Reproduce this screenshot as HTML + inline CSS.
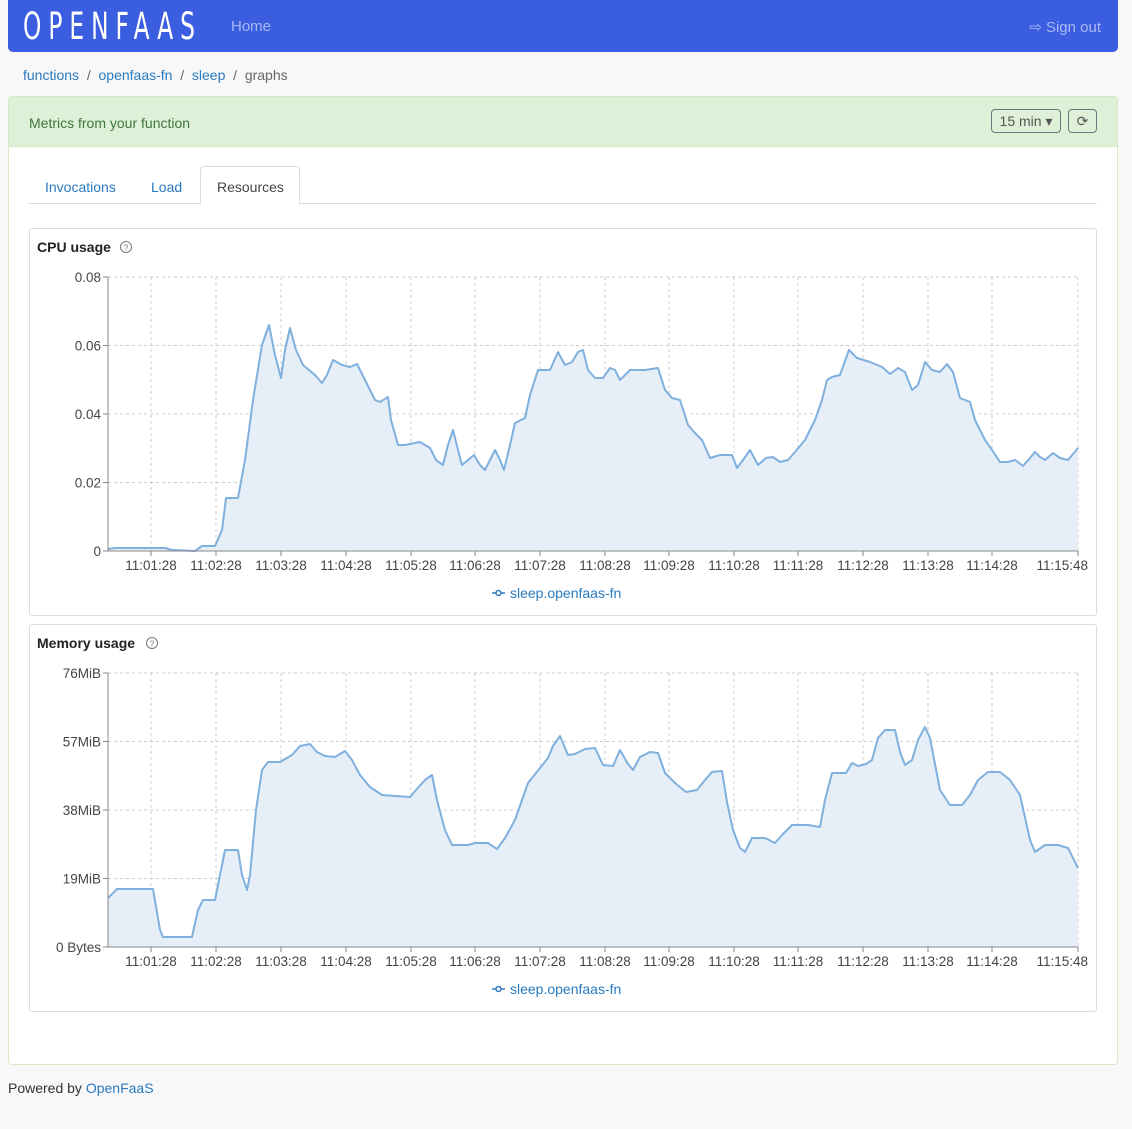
<!DOCTYPE html>
<html><head><meta charset="utf-8"><style>
body{margin:0;background:#f8f8f8;font-family:"Liberation Sans",sans-serif;width:1132px;height:1129px;position:relative;overflow:hidden;color:#333}
.nav{position:absolute;left:8px;top:0;width:1110px;height:52px;background:#3b5ee0;border-radius:0 0 5px 5px}
.logo{position:absolute;left:15px;top:5px;color:#fff;font-size:37px;letter-spacing:10px;font-family:"DejaVu Sans Condensed","Liberation Sans Narrow",sans-serif;font-weight:300;transform:scaleX(.7);transform-origin:left}
.home{position:absolute;left:223px;top:18px;color:#aab8f2;font-size:15px}
.so{position:absolute;right:17px;top:18px;color:#aab8f2;font-size:15px}
.bc{position:absolute;left:23px;top:67px;font-size:14px;color:#666}
.bc a{color:#2a7ac0}
.card{position:absolute;left:8px;top:96px;width:1108px;height:967px;border:1px solid #d6e9c6;border-radius:4px;background:#fff}
.ch{height:49px;background:#dff0d8;border-bottom:1px solid #d6e9c6;position:relative}
.ch span{position:absolute;left:20px;top:18px;color:#3c763d;font-size:14px}
.btn{position:absolute;border:1px solid #6c757d;border-radius:4px;color:#555;font-size:14px;height:22px;line-height:22px;top:12px}
.tab{position:absolute;top:80px;font-size:14px;color:#2a7ac0}
.pan{position:absolute;left:20px;width:1066px;height:386px;border:1px solid #ddd;border-radius:3px}
.ft{position:absolute;left:8px;top:1080px;font-size:14px}
svg text{font-family:"Liberation Sans",sans-serif}
</style></head><body>
<div class="nav"><div class="logo">OPENFAAS</div><div class="home">Home</div><div class="so">⇨ Sign out</div></div>
<div class="bc"><a>functions</a> &nbsp;/&nbsp; <a>openfaas-fn</a> &nbsp;/&nbsp; <a>sleep</a> &nbsp;/&nbsp; graphs</div>
<div class="card">
<div class="ch"><span>Metrics from your function</span>
<div class="btn" style="left:982px;width:68px;text-align:center">15 min ▾</div>
<div class="btn" style="left:1059px;width:27px;text-align:center">⟳</div></div>
<div style="position:absolute;left:20px;top:106px;width:1068px;border-bottom:1px solid #ddd"></div>
<div style="position:absolute;left:191px;top:69px;width:98px;height:37px;border:1px solid #ddd;border-bottom:1px solid #fff;border-radius:4px 4px 0 0;background:#fff"></div>
<div class="tab" style="left:36px;top:82px">Invocations</div>
<div class="tab" style="left:142px;top:82px">Load</div>
<div class="tab" style="left:208px;top:82px;color:#444">Resources</div>
<div class="pan" style="top:131px"></div>
<div class="pan" style="top:527px"></div>
</div>
<svg id="s" width="1132" height="1129" style="position:absolute;left:0;top:0"></svg>
<div class="ft">Powered by <span style="color:#2a7ac0">OpenFaaS</span></div>
<script>
var cpu=[108,549,115,548,130,548,165,548,172,550,195,551,202,546,215,546,222,530,226,498,238,498,245,460,253,400,262,345,269,325,275,355,281,378,285,350,290,328,296,350,303,365,315,375,322,383,327,375,333,360,342,365,350,367,357,364,365,380,375,400,380,402,388,397,391,420,398,445,405,445,420,442,430,448,436,460,443,465,448,445,453,430,458,450,462,465,468,460,474,455,480,465,485,470,490,460,495,450,500,460,504,470,510,445,515,423,525,418,530,395,538,370,550,370,558,352,565,365,572,362,578,352,583,350,588,370,595,378,603,378,610,368,615,370,620,380,630,370,645,370,658,368,665,390,672,398,680,400,688,425,695,433,702,440,710,458,720,455,732,455,737,468,743,460,750,450,758,465,766,458,773,457,780,462,788,460,795,452,805,440,815,420,822,400,827,380,832,377,840,375,849,350,857,358,870,362,882,367,890,374,898,368,905,372,912,390,918,385,925,362,932,370,940,372,947,364,953,372,960,398,970,402,975,420,985,440,992,450,1000,462,1008,462,1015,460,1023,466,1030,458,1035,452,1040,457,1045,460,1053,453,1060,458,1068,460,1078,448];
var mem=[108,898,117,889,153,889,160,930,163,937,192,937,198,910,203,900,215,900,220,875,225,850,238,850,242,875,247,890,250,875,256,810,262,770,268,762,280,762,292,755,300,746,310,744,317,752,325,756,335,757,345,751,352,760,360,775,370,787,382,795,395,796,410,797,416,790,425,780,432,775,437,800,445,830,452,845,468,845,475,843,488,843,497,849,505,838,515,820,522,800,528,783,540,768,548,758,553,746,560,736,568,755,575,754,585,749,595,748,603,765,613,766,620,750,628,764,633,770,640,757,650,752,658,753,665,773,675,783,686,792,697,790,705,780,712,772,722,771,727,802,733,830,740,848,745,852,752,838,765,838,775,843,782,835,792,825,808,825,820,827,825,800,832,773,840,773,846,773,852,763,858,766,866,764,872,760,878,738,885,730,895,730,900,752,905,765,912,760,918,740,925,727,930,738,940,790,950,805,962,805,970,795,978,780,988,772,1000,772,1010,780,1020,795,1030,840,1035,852,1045,845,1058,845,1068,848,1078,868];
var xt=[151,216,281,346,411,475,540,605,669,734,798,863,928,992,1078];
var xl=["11:01:28","11:02:28","11:03:28","11:04:28","11:05:28","11:06:28","11:07:28","11:08:28","11:09:28","11:10:28","11:11:28","11:12:28","11:13:28","11:14:28","11:15:48"];
var h='';
function chart(top,base,title,tx,yl,d){
 h+='<text x="37" y="'+(top+29)+'" font-size="14" font-weight="bold" fill="#222">'+title+'</text>';
 h+='<circle cx="'+tx+'" cy="'+(top+24)+'" r="5.5" fill="none" stroke="#777"/><text x="'+tx+'" y="'+(top+27.5)+'" font-size="8" text-anchor="middle" fill="#777">?</text>';
 for(var i=0;i<5;i++){var y=base-i*68.5;
  h+='<line x1="108" x2="1078" y1="'+y+'" y2="'+y+'" stroke="#ccc" stroke-dasharray="3,3"/>';
  h+='<line x1="103" x2="108" y1="'+y+'" y2="'+y+'" stroke="#888"/>';
  h+='<text x="101" y="'+(y+5)+'" font-size="13.5" text-anchor="end" fill="#444">'+yl[i]+'</text>';}
 xt.forEach(function(x,i){var last=i==14;h+='<line x1="'+x+'" x2="'+x+'" y1="'+(base-274)+'" y2="'+base+'" stroke="#ccc" stroke-dasharray="3,3"/><line x1="'+x+'" x2="'+x+'" y1="'+base+'" y2="'+(base+5)+'" stroke="#888"/><text x="'+(last?1088:x)+'" y="'+(base+19)+'" font-size="13.5" text-anchor="'+(last?'end':'middle')+'" fill="#444">'+xl[i]+'</text>';});
 var p='';for(var i=0;i<d.length;i+=2)p+=(i?'L':'M')+d[i]+','+d[i+1];
 h+='<path d="'+p+'L1078,'+base+'L108,'+base+'Z" fill="#e6eef8"/>';
 h+='<path d="'+p+'" fill="none" stroke="#7fb0de" stroke-width="2" stroke-linejoin="round"/>';
 h+='<line x1="108" x2="1078" y1="'+base+'" y2="'+base+'" stroke="#888"/><line x1="108" x2="108" y1="'+(base-274)+'" y2="'+base+'" stroke="#888"/>';
 h+='<line x1="492" x2="505" y1="'+(base+42)+'" y2="'+(base+42)+'" stroke="#2a7ac0" stroke-width="1.5"/><circle cx="498.5" cy="'+(base+42)+'" r="2.5" fill="#fff" stroke="#2a7ac0" stroke-width="1.5"/>';
 h+='<text x="510" y="'+(base+47)+'" font-size="14" fill="#2a7ac0">sleep.openfaas-fn</text>';
}
chart(223,551,"CPU usage",126,["0","0.02","0.04","0.06","0.08"],cpu);
chart(619,947,"Memory usage",152,["0 Bytes","19MiB","38MiB","57MiB","76MiB"],mem);
document.getElementById('s').innerHTML=h;
</script>
</body></html>
